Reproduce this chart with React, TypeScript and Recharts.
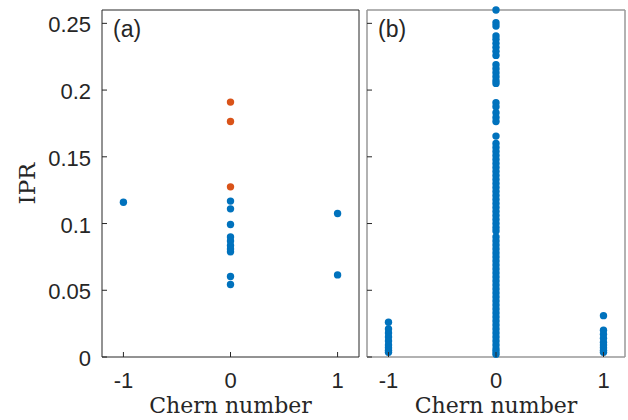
import React from 'react';
import { ScatterChart, Scatter, XAxis, YAxis } from 'recharts';

// Panel (a)
const aBlueX = [-1, 0, 0, 0, 0, 0, 0, 0, 0, 0, 0, 1, 1];
const aBlueY = [0.116, 0.1168, 0.111, 0.0993, 0.09, 0.087, 0.0835, 0.081, 0.0788, 0.0603, 0.0543, 0.1075, 0.0615];
const aOrangeX = [0, 0, 0];
const aOrangeY = [0.191, 0.1765, 0.1275];

// Panel (b)
const bMinusOne = [0.026, 0.021, 0.018, 0.015, 0.012, 0.009, 0.007, 0.005, 0.0035];
const bZero = [
  0.26, 0.2505, 0.248, 0.2405, 0.238, 0.235, 0.232, 0.229, 0.226,
  0.219, 0.216, 0.213, 0.21, 0.207, 0.205,
  0.1905, 0.1875, 0.183, 0.1795, 0.1765, 0.1655,
  0.16, 0.157, 0.154, 0.151, 0.148, 0.145, 0.142, 0.139, 0.136, 0.133, 0.13,
  0.127, 0.124, 0.121, 0.118, 0.115, 0.112, 0.109, 0.106, 0.103, 0.1, 0.097, 0.0945,
  0.09, 0.087, 0.084, 0.081, 0.078, 0.075, 0.072, 0.069, 0.066, 0.063, 0.06,
  0.057, 0.054, 0.051, 0.048, 0.045, 0.042, 0.039, 0.036, 0.033, 0.03, 0.027,
  0.024, 0.021, 0.018, 0.015, 0.012, 0.009, 0.006, 0.004, 0.002,
];
const bPlusOne = [0.031, 0.02, 0.017, 0.014, 0.011, 0.009, 0.007, 0.005, 0.0035];

const xTicks = [-1, 0, 1];
const xTickLabels = ['-1', '0', '1'];
const yTicks = [0, 0.05, 0.1, 0.15, 0.2, 0.25];
const yTickLabels = ['0', '0.05', '0.1', '0.15', '0.2', '0.25'];

const xDomain = [-1.2, 1.2];
const yDomain = [0, 0.26];

const BLUE = '#0072BD';
const ORANGE = '#D95319';
const TICK = '#262626';
const SANS = '"Liberation Sans", Arial, sans-serif';
const SERIF = '"DejaVu Serif", serif';

const pairs = (xs: number[], ys: number[]) => xs.map((x, i) => ({ x, y: ys[i] }));
const column = (x: number, ys: number[]) => ys.map((y) => ({ x, y }));

const dataABlue = pairs(aBlueX, aBlueY);
const dataAOrange = pairs(aOrangeX, aOrangeY);
const dataB = [...column(-1, bMinusOne), ...column(0, bZero), ...column(1, bPlusOne)];

const dot = (color: string) => (p: any) => <circle cx={p.cx} cy={p.cy} r={3.7} fill={color} />;

const labelFor = (v: number, ticks: number[], labels: string[]) => {
  const i = ticks.findIndex((t) => Math.abs(t - v) < 1e-9);
  return i >= 0 ? labels[i] : String(v);
};

const BottomTick = (showLabel: boolean) => (p: any) => (
  <g>
    <line x1={p.x} x2={p.x} y1={p.y} y2={p.y - 5} stroke={TICK} strokeWidth={1} />
    {showLabel && (
      <text x={p.x} y={p.y + 31} textAnchor="middle" fontFamily={SANS} fontSize={22} fill={TICK}>
        {labelFor(p.payload.value, xTicks, xTickLabels)}
      </text>
    )}
  </g>
);
const TopTick = (p: any) => <line x1={p.x} x2={p.x} y1={p.y} y2={p.y + 5} stroke={TICK} strokeWidth={1} />;
const LeftTick = (showLabel: boolean) => (p: any) => (
  <g>
    <line x1={p.x} x2={p.x + 5} y1={p.y} y2={p.y} stroke={TICK} strokeWidth={1} />
    {showLabel && (
      <text x={p.x - 11} y={p.y + 9} textAnchor="end" fontFamily={SANS} fontSize={22} fill={TICK}>
        {labelFor(p.payload.value, yTicks, yTickLabels)}
      </text>
    )}
  </g>
);
const RightTick = (p: any) => <line x1={p.x} x2={p.x - 5} y1={p.y} y2={p.y} stroke={TICK} strokeWidth={1} />;

const chernLabel = { value: 'Chern number', position: 'insideBottom' as const, offset: 7, fontFamily: SERIF, fontSize: 22, fill: TICK };

const Panel = ({ width, left, yAxisWidth, marginRight, frame, frameWidth, showY, tag, series }: any) => (
  <div style={{ position: 'absolute', left, top: 0 }}>
    <ScatterChart width={width} height={420} margin={{ top: 9, right: marginRight, bottom: 0, left: 0 }}>
      <XAxis
        xAxisId="b"
        type="number"
        dataKey="x"
        domain={xDomain}
        ticks={xTicks}
        orientation="bottom"
        height={63}
        tickSize={0}
        tickMargin={0}
        tickLine={false}
        tick={BottomTick(true)}
        axisLine={{ stroke: frame, strokeWidth: frameWidth }}
        label={chernLabel}
        interval={0}
      />
      <XAxis
        xAxisId="t"
        type="number"
        dataKey="x"
        domain={xDomain}
        ticks={xTicks}
        orientation="top"
        height={1}
        tickSize={0}
        tickMargin={0}
        tickLine={false}
        tick={TopTick}
        axisLine={{ stroke: frame, strokeWidth: frameWidth }}
        interval={0}
      />
      <YAxis
        yAxisId="l"
        type="number"
        dataKey="y"
        domain={yDomain}
        ticks={yTicks}
        orientation="left"
        width={yAxisWidth}
        tickSize={0}
        tickMargin={0}
        tickLine={false}
        tick={LeftTick(showY)}
        axisLine={{ stroke: frame, strokeWidth: frameWidth }}
        interval={0}
        label={
          showY
            ? {
                content: (lp: any) => {
                  const vb = lp.viewBox || { x: 0, y: 10, width: 102, height: 347 };
                  const cx = vb.x + 35;
                  const cy = vb.y + vb.height / 2;
                  return (
                    <text x={cx} y={cy} transform={`rotate(-90 ${cx} ${cy})`} textAnchor="middle" fontFamily={SERIF} fontSize={23} fill={TICK}>
                      IPR
                    </text>
                  );
                },
              }
            : undefined
        }
      />
      <YAxis
        yAxisId="r"
        type="number"
        dataKey="y"
        domain={yDomain}
        ticks={yTicks}
        orientation="right"
        width={1}
        tickSize={0}
        tickMargin={0}
        tickLine={false}
        tick={RightTick}
        axisLine={{ stroke: frame, strokeWidth: frameWidth }}
        interval={0}
      />
      {series.map((s: any, i: number) => (
        <Scatter key={i} xAxisId="b" yAxisId="l" data={s.data} shape={dot(s.color)} isAnimationActive={false} />
      ))}
    </ScatterChart>
    <div
      style={{
        position: 'absolute',
        left: yAxisWidth + 11,
        top: 16,
        fontFamily: SANS,
        fontSize: 23,
        color: TICK,
        lineHeight: '26px',
      }}
    >
      {tag}
    </div>
  </div>
);

export default function App() {
  return (
    <div style={{ position: 'fixed', left: 0, top: 0, width: 628, height: 420, background: '#fff' }}>
      <Panel
        width={360}
        left={0}
        yAxisWidth={102}
        marginRight={0}
        frame="#262626"
        frameWidth={1}
        showY={true}
        tag="(a)"
        series={[
          { data: dataABlue, color: BLUE },
          { data: dataAOrange, color: ORANGE },
        ]}
      />
      <Panel
        width={268}
        left={360}
        yAxisWidth={7}
        marginRight={2}
        frame="#999999"
        frameWidth={1.5}
        showY={false}
        tag="(b)"
        series={[{ data: dataB, color: BLUE }]}
      />
    </div>
  );
}
